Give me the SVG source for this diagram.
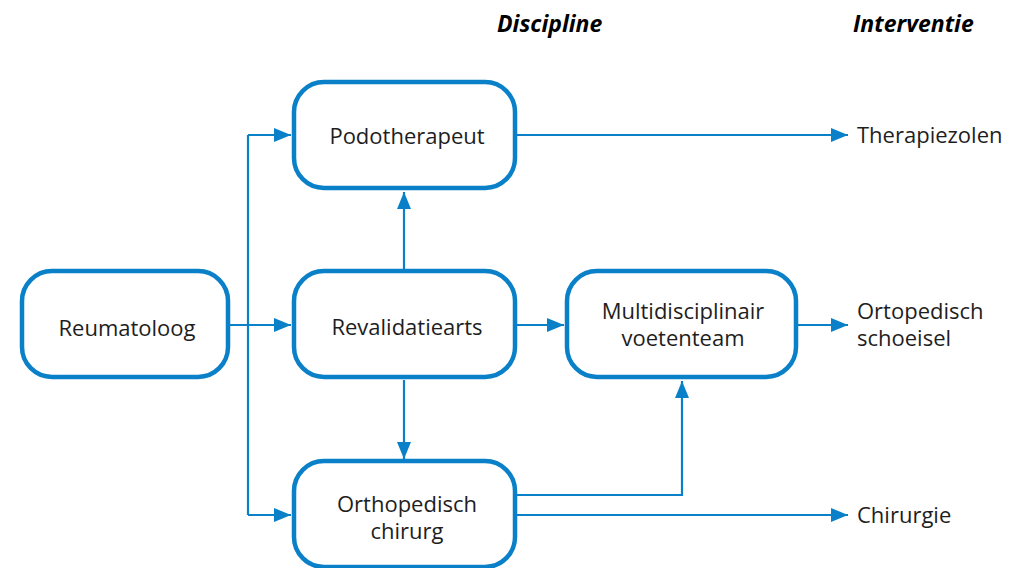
<svg xmlns="http://www.w3.org/2000/svg" width="1009" height="568" viewBox="0 0 1009 568">
<style>
.node{fill:#fff;stroke:#0a80c8;stroke-width:4.5}
.lbl{font-family:"Open Sans","Liberation Sans",sans-serif;font-weight:400;font-size:22px;fill:#1e1e1e;text-anchor:middle}
.out{font-family:"Open Sans","Liberation Sans",sans-serif;font-weight:400;font-size:22px;fill:#1e1e1e}
.hdr{font-family:"Open Sans","Liberation Sans",sans-serif;font-weight:700;font-style:italic;font-size:23px;fill:#000}
.con{fill:none;stroke:#0a80c8;stroke-width:2.2}
</style>
<defs>
<marker id="ah" markerUnits="userSpaceOnUse" markerWidth="18" markerHeight="14" refX="17" refY="7" orient="auto">
<path d="M0,0 L17,7 L0,14 Z" fill="#0a80c8"/>
</marker>
</defs>
<text class="hdr" x="497" y="32">Discipline</text>
<text class="hdr" x="853" y="32">Interventie</text>
<g id="connectors">
<path class="con" d="M248,135 V515"/>
<path class="con" d="M248,135 H291" marker-end="url(#ah)"/>
<path class="con" d="M230,325 H291" marker-end="url(#ah)"/>
<path class="con" d="M248,515 H291" marker-end="url(#ah)"/>
<path class="con" d="M404,269 V192" marker-end="url(#ah)"/>
<path class="con" d="M404,380 V459" marker-end="url(#ah)"/>
<path class="con" d="M517,325 H564" marker-end="url(#ah)"/>
<path class="con" d="M517,135 H848" marker-end="url(#ah)"/>
<path class="con" d="M798,325 H848" marker-end="url(#ah)"/>
<path class="con" d="M517,495 H682 V381" marker-end="url(#ah)"/>
<path class="con" d="M517,515 H848" marker-end="url(#ah)"/>
</g>
<g id="reumatoloog">
<rect class="node" x="22" y="271" width="206" height="106" rx="30"/>
<text class="lbl" x="127" y="336">Reumatoloog</text>
</g>
<g id="podotherapeut">
<rect class="node" x="294" y="82" width="221" height="106" rx="30"/>
<text class="lbl" x="407" y="144">Podotherapeut</text>
</g>
<g id="revalidatiearts">
<rect class="node" x="294" y="271" width="221" height="106" rx="30"/>
<text class="lbl" x="407" y="335">Revalidatiearts</text>
</g>
<g id="multidisciplinair">
<rect class="node" x="567" y="271" width="229" height="106" rx="30"/>
<text class="lbl" x="683" y="319">Multidisciplinair</text>
<text class="lbl" x="683" y="346">voetenteam</text>
</g>
<g id="orthopedisch">
<rect class="node" x="294" y="461" width="221" height="106" rx="30"/>
<text class="lbl" x="407" y="512">Orthopedisch</text>
<text class="lbl" x="407" y="539">chirurg</text>
</g>
<g id="therapiezolen"><text class="out" x="857" y="143">Therapiezolen</text></g>
<g id="schoeisel"><text class="out" x="857" y="319">Ortopedisch</text><text class="out" x="857" y="346">schoeisel</text></g>
<g id="chirurgie"><text class="out" x="857" y="523">Chirurgie</text></g>
</svg>
